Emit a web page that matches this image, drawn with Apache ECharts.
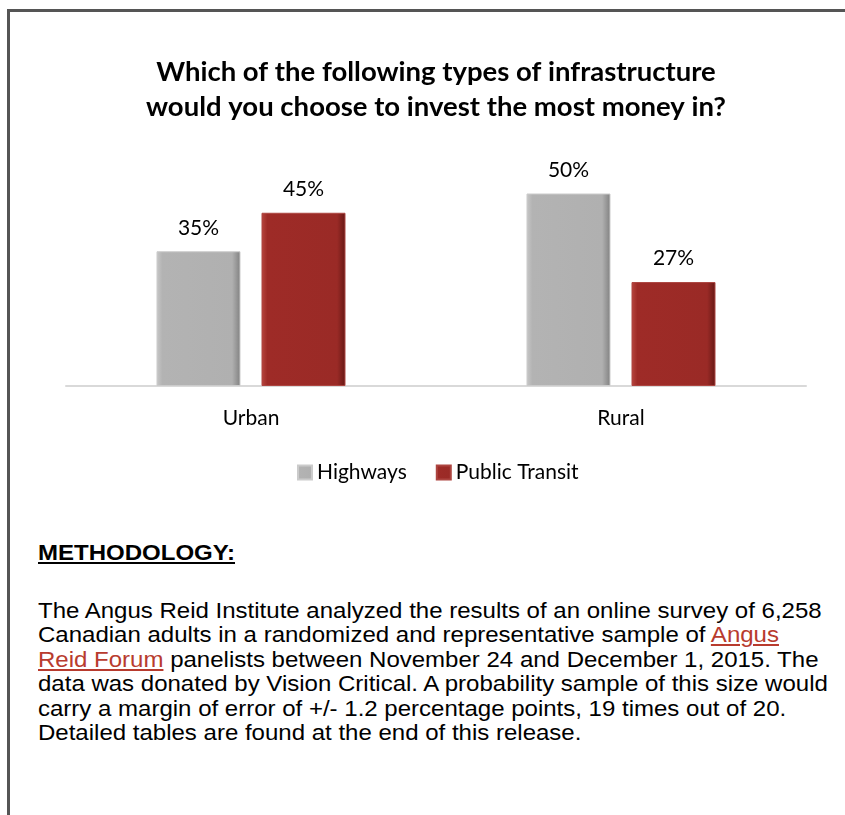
<!DOCTYPE html>
<html>
<head>
<meta charset="utf-8">
<script src="https://cdn.jsdelivr.net/npm/echarts@6/dist/echarts.min.js"></script>
<style>
  html, body { margin: 0; padding: 0; background: #fff; width: 845px; height: 815px; overflow: hidden; }
  #frame { position: absolute; left: 7px; top: 9px; width: 845px; height: 815px; border-top: 3px solid #555; border-left: 3px solid #555; }
  #chart { position: absolute; left: 0; top: 0; width: 845px; height: 500px; }
  .meth { position: absolute; left: 38px; font-family: "Liberation Sans", Arial, sans-serif; font-size: 21.5px; line-height: 24.4px; color: #000; white-space: nowrap; transform: scaleX(1.117); transform-origin: 0 0; }
  #mhead { top: 541px; font-weight: bold; text-decoration: underline; }
  #mbody { top: 599px; }
  #mbody a { color: #b83b2e; text-decoration: underline; }
</style>
</head>
<body>
<div id="frame"></div>
<div id="chart"></div>
<div class="meth" id="mhead">METHODOLOGY:</div>
<div class="meth" id="mbody">The Angus Reid Institute analyzed the results of an online survey of 6,258<br>Canadian adults in a randomized and representative sample of <a>Angus<br>Reid Forum</a> panelists between November 24 and December 1, 2015. The<br>data was donated by Vision Critical. A probability sample of this size would<br>carry a margin of error of +/- 1.2 percentage points, 19 times out of 20.<br>Detailed tables are found at the end of this release.</div>
<script>
const categories = ["Urban", "Rural"];
const seriesNames = ["Highways", "Public Transit"];
const highways = [35, 50];
const publicTransit = [45, 27];

const FONT = "Lato";
function grad(c0, c1, c2, c3) {
  return new echarts.graphic.LinearGradient(0, 0, 1, 0, [
    { offset: 0, color: c0 }, { offset: 0.07, color: c1 },
    { offset: 0.9, color: c2 }, { offset: 1, color: c3 }
  ]);
}
const grayFill = grad('#c8c8c8', '#b3b3b3', '#b0b0b0', '#808080');
const redFill = grad('#b8463f', '#9e2b27', '#9a2a26', '#661815');

const chart = echarts.init(document.getElementById('chart'), null, { renderer: 'canvas' });
const labelCfg = {
  show: true, position: 'top', distance: 13,
  formatter: p => p.value + '%',
  fontFamily: FONT, fontSize: 21, color: '#000'
};
chart.setOption({
  animation: false,
  title: {
    text: "Which of the following types of infrastructure\nwould you choose to invest the most money in?",
    left: 431, top: 50, textAlign: 'center',
    textStyle: { fontFamily: FONT, fontWeight: 'bold', fontSize: 27.5, lineHeight: 35, color: '#000' }
  },
  legend: {
    data: seriesNames, left: 292, top: 457,
    icon: 'rect', itemWidth: 14, itemHeight: 14, itemGap: 29,
    textStyle: { fontFamily: FONT, fontSize: 21, color: '#000' }
  },
  grid: { left: 66, right: 39, top: 155, bottom: 114, containLabel: false },
  xAxis: {
    type: 'category', data: categories,
    axisLine: { show: true, lineStyle: { color: '#d9d9d9', width: 2 } },
    axisTick: { show: false },
    axisLabel: { margin: 22, fontFamily: FONT, fontSize: 21, color: '#000' }
  },
  yAxis: { type: 'value', min: 0, max: 60, show: false, splitLine: { show: false } },
  series: [
    { name: seriesNames[0], type: 'bar', data: highways, barWidth: 84, barGap: '25%',
      itemStyle: { color: grayFill, borderColor: '#cbcbcb', borderWidth: 1 },
      label: labelCfg },
    { name: seriesNames[1], type: 'bar', data: publicTransit, barWidth: 84,
      itemStyle: { color: redFill, borderColor: '#ad4540', borderWidth: 1 },
      label: labelCfg }
  ]
});
</script>
</body>
</html>
